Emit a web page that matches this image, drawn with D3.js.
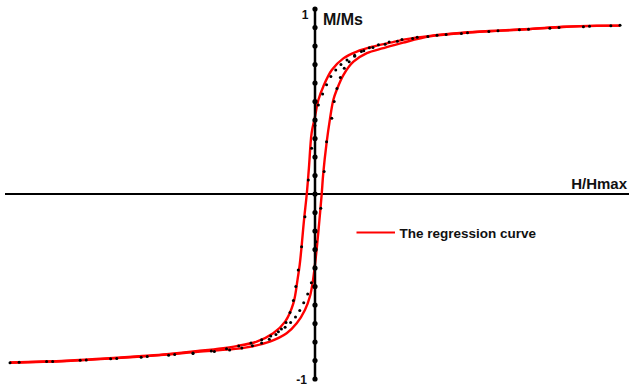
<!DOCTYPE html>
<html>
<head>
<meta charset="utf-8">
<script src="https://cdn.jsdelivr.net/npm/d3@7"></script>
<style>
html,body{margin:0;padding:0;background:#fff;}
svg{display:block;}
text{font-family:"Liberation Sans",Arial,sans-serif;font-weight:bold;fill:#111;}
</style>
</head>
<body>
<svg id="chart" width="629" height="388"></svg>
<script>
// Regression curve, descending branch (H/Hmax, M/Ms)
const fitDescH = [-1, -0.814, -0.65, -0.486, -0.384, -0.257, -0.191, -0.137, -0.098, -0.071, -0.057, -0.05, -0.044, -0.036, -0.027, -0.02, -0.011, 0, 0.011, 0.027, 0.055, 0.093, 0.137, 0.19, 0.246, 0.295, 0.377, 0.485, 0.597, 0.705, 0.813, 0.925, 1];
const fitDescM = [-0.91, -0.901, -0.885, -0.866, -0.849, -0.822, -0.798, -0.753, -0.69, -0.591, -0.46, -0.38, -0.285, -0.14, 0, 0.14, 0.33, 0.418, 0.508, 0.58, 0.67, 0.733, 0.77, 0.797, 0.818, 0.836, 0.855, 0.872, 0.883, 0.892, 0.904, 0.91, 0.91];
// Regression curve, ascending branch
const fitAscH = [-1, -0.814, -0.65, -0.486, -0.384, -0.279, -0.224, -0.148, -0.093, -0.06, -0.033, -0.016, -0.006, 0, 0.006, 0.014, 0.022, 0.027, 0.038, 0.049, 0.06, 0.071, 0.093, 0.126, 0.17, 0.224, 0.289, 0.377, 0.485, 0.597, 0.705, 0.813, 0.925, 1];
const fitAscM = [-0.912, -0.903, -0.887, -0.868, -0.853, -0.84, -0.829, -0.798, -0.753, -0.699, -0.627, -0.55, -0.46, -0.38, -0.29, -0.15, 0, 0.11, 0.276, 0.405, 0.508, 0.562, 0.643, 0.715, 0.761, 0.788, 0.818, 0.852, 0.87, 0.882, 0.891, 0.903, 0.909, 0.91];
// Measured points, descending branch
const dotDescH = [1.0, 0.9, 0.8, 0.7, 0.6, 0.5, 0.43, 0.37, 0.32, 0.27, 0.23, 0.19, 0.16, 0.13, 0.105, 0.085, 0.068, 0.052, 0.038, 0.025, 0.011, 0.0, -0.011, -0.022, -0.033, -0.044, -0.055, -0.063, -0.071, -0.082, -0.095, -0.11, -0.128, -0.15, -0.175, -0.205, -0.24, -0.28, -0.33, -0.4, -0.48, -0.57, -0.67, -0.77, -0.88, -1.0];
const dotDescM = [0.912, 0.907, 0.9, 0.891, 0.882, 0.871, 0.862, 0.851, 0.84, 0.826, 0.81, 0.792, 0.774, 0.75, 0.725, 0.7, 0.67, 0.635, 0.59, 0.54, 0.481, 0.37, 0.247, 0.076, -0.123, -0.285, -0.411, -0.5, -0.575, -0.64, -0.695, -0.73, -0.76, -0.785, -0.805, -0.82, -0.833, -0.843, -0.852, -0.862, -0.872, -0.882, -0.89, -0.898, -0.905, -0.912];
// Measured points, ascending branch
const dotAscH = [-0.97, -0.86, -0.75, -0.65, -0.55, -0.46, -0.4, -0.34, -0.29, -0.25, -0.21, -0.175, -0.145, -0.12, -0.098, -0.08, -0.064, -0.05, -0.037, -0.024, -0.012, -0.002, 0.003, 0.019, 0.03, 0.038, 0.055, 0.063, 0.072, 0.083, 0.096, 0.112, 0.13, 0.152, 0.178, 0.208, 0.243, 0.285, 0.335, 0.4, 0.48, 0.57, 0.67, 0.77, 0.88, 0.97];
const dotAscM = [-0.91, -0.905, -0.897, -0.889, -0.879, -0.868, -0.859, -0.848, -0.836, -0.822, -0.806, -0.788, -0.768, -0.745, -0.72, -0.695, -0.665, -0.63, -0.588, -0.54, -0.48, -0.393, -0.258, -0.077, 0.121, 0.283, 0.409, 0.5, 0.57, 0.63, 0.68, 0.715, 0.745, 0.77, 0.79, 0.807, 0.822, 0.835, 0.847, 0.858, 0.868, 0.879, 0.888, 0.896, 0.904, 0.91];
// Y axis tick marks
const yTicks = [-1, -0.9, -0.8, -0.7, -0.6, -0.5, -0.4, -0.3, -0.2, -0.1, 0, 0.1, 0.2, 0.3, 0.4, 0.5, 0.6, 0.7, 0.8, 0.9, 1];
const yTickLabels = ["-1", "1"];
const legendLabel = "The regression curve";

const svg = d3.select("#chart");
const x = d3.scaleLinear().domain([-1, 1]).range([10, 620]);
const y = d3.scaleLinear().domain([-1, 1]).range([379, 9]);

const line = d3.line().x(d => x(d[0])).y(d => y(d[1])).curve(d3.curveCatmullRom.alpha(0.5));
const fitDesc = fitDescH.map((h, i) => [h, fitDescM[i]]);
const fitAsc = fitAscH.map((h, i) => [h, fitAscM[i]]);

// horizontal axis
svg.append("line").attr("x1", 5).attr("x2", 629).attr("y1", y(0)).attr("y2", y(0))
  .attr("stroke", "#000").attr("stroke-width", 2);

// regression curves
[fitDesc, fitAsc].forEach(d => {
  svg.append("path").datum(d).attr("d", line).attr("fill", "none")
    .attr("stroke", "#f00").attr("stroke-width", 2.4);
});

// vertical axis
svg.append("line").attr("x1", x(0)).attr("x2", x(0)).attr("y1", y(1)).attr("y2", y(-1))
  .attr("stroke", "#000").attr("stroke-width", 2.5);
svg.selectAll("circle.tick").data(yTicks).enter().append("circle")
  .attr("class", "tick").attr("cx", x(0)).attr("cy", d => y(d)).attr("r", 2.6).attr("fill", "#000");

// measured dots
const dots = dotDescH.map((h, i) => [h, dotDescM[i]]).concat(dotAscH.map((h, i) => [h, dotAscM[i]]));
svg.selectAll("circle.pt").data(dots).enter().append("circle")
  .attr("class", "pt").attr("cx", d => x(d[0])).attr("cy", d => y(d[1])).attr("r", 1.5).attr("fill", "#000");

// labels
svg.append("text").attr("x", 308.5).attr("y", 18.5).attr("text-anchor", "end").style("font-size", "12px").text(yTickLabels[1]);
svg.append("text").attr("x", 307).attr("y", 384).attr("text-anchor", "end").style("font-size", "12px").text(yTickLabels[0]);
svg.append("text").attr("x", 323).attr("y", 25).style("font-size", "16px").text("M/Ms");
svg.append("text").attr("x", 627).attr("y", 189).attr("text-anchor", "end").style("font-size", "15px").text("H/Hmax");

// legend
svg.append("line").attr("x1", 356.5).attr("x2", 395).attr("y1", 232.5).attr("y2", 232.5)
  .attr("stroke", "#f00").attr("stroke-width", 2);
svg.append("text").attr("x", 399.5).attr("y", 237.5).style("font-size", "13.5px").text(legendLabel);
</script>
</body>
</html>
